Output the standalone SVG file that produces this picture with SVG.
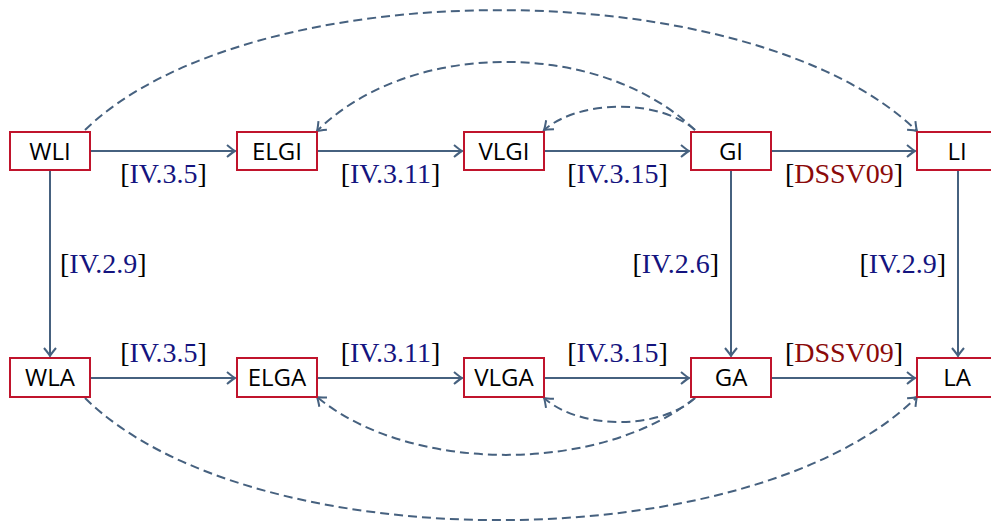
<svg xmlns="http://www.w3.org/2000/svg" width="991" height="527" viewBox="0 0 991 527">
<style>
.box{fill:#fff;stroke:#c0142c;stroke-width:2}
.nt{font-family:"Open Sans","DejaVu Sans",sans-serif;font-size:24px;fill:#000;text-anchor:middle}
.e{fill:none;stroke:#46617f;stroke-width:2;marker-end:url(#arr)}
.d{stroke-dasharray:9 5}
.lb{font-family:"Liberation Serif","Times New Roman",serif;font-size:28px;fill:#000}
.c{text-anchor:middle}
.r{text-anchor:end}
.bl{fill:#14147f}
.rd{fill:#8b0a0a}
</style>
<defs>
<marker id="arr" markerUnits="userSpaceOnUse" markerWidth="16" markerHeight="16" refX="1" refY="0" viewBox="-9 -8 11 16" orient="auto" overflow="visible">
<path d="M-7,-6 Q-1,-1 1,0 Q-1,1 -7,6" fill="none" stroke="#46617f" stroke-width="2" stroke-dasharray="none"/>
</marker>
</defs>
<g id="connectors">
<path class="e" d="M90,151 H235"/>
<path class="e" d="M317,151 H462"/>
<path class="e" d="M544,151 H689"/>
<path class="e" d="M771,151 H915"/>
<path class="e" d="M90,378 H235"/>
<path class="e" d="M317,378 H462"/>
<path class="e" d="M544,378 H689"/>
<path class="e" d="M771,378 H915"/>
<path class="e" d="M50,170 V356"/>
<path class="e" d="M731,170 V356"/>
<path class="e" d="M958,170 V356"/>
<path class="e d" d="M85,130 C250,-30 750,-30 917,131"/>
<path class="e d" d="M695,130 C600,39 410,39 317,131"/>
<path class="e d" d="M695,130 C660,99 580,99 544,130"/>
<path class="e d" d="M85,398 C250,561 750,561 917,397"/>
<path class="e d" d="M695,398 C600,474 410,474 317,397"/>
<path class="e d" d="M695,398 C660,430 580,430 544,398"/>
</g>
<g id="labels">
<text class="lb c" x="163.5" y="183">[<tspan class="bl">IV.3.5</tspan>]</text>
<text class="lb c" x="390.5" y="183">[<tspan class="bl">IV.3.11</tspan>]</text>
<text class="lb c" x="617.5" y="183">[<tspan class="bl">IV.3.15</tspan>]</text>
<text class="lb c" x="844" y="183">[<tspan class="rd">DSSV09</tspan>]</text>
<text class="lb c" x="163.5" y="362">[<tspan class="bl">IV.3.5</tspan>]</text>
<text class="lb c" x="390.5" y="362">[<tspan class="bl">IV.3.11</tspan>]</text>
<text class="lb c" x="617.5" y="362">[<tspan class="bl">IV.3.15</tspan>]</text>
<text class="lb c" x="844" y="362">[<tspan class="rd">DSSV09</tspan>]</text>
<text class="lb" x="60" y="273">[<tspan class="bl">IV.2.9</tspan>]</text>
<text class="lb r" x="719" y="273">[<tspan class="bl">IV.2.6</tspan>]</text>
<text class="lb r" x="946" y="273">[<tspan class="bl">IV.2.9</tspan>]</text>
</g>
<g id="WLI"><rect class="box" x="10" y="132" width="80" height="38"/><text class="nt" x="50" y="160">WLI</text></g>
<g id="ELGI"><rect class="box" x="237" y="132" width="80" height="38"/><text class="nt" x="277" y="160">ELGI</text></g>
<g id="VLGI"><rect class="box" x="464" y="132" width="80" height="38"/><text class="nt" x="504" y="160">VLGI</text></g>
<g id="GI"><rect class="box" x="691" y="132" width="80" height="38"/><text class="nt" x="731" y="160">GI</text></g>
<g id="LI"><rect class="box" x="917" y="132" width="80" height="38"/><text class="nt" x="957" y="160">LI</text></g>
<g id="WLA"><rect class="box" x="10" y="358" width="80" height="39"/><text class="nt" x="50" y="386">WLA</text></g>
<g id="ELGA"><rect class="box" x="237" y="358" width="80" height="39"/><text class="nt" x="277" y="386">ELGA</text></g>
<g id="VLGA"><rect class="box" x="464" y="358" width="80" height="39"/><text class="nt" x="504" y="386">VLGA</text></g>
<g id="GA"><rect class="box" x="691" y="358" width="80" height="39"/><text class="nt" x="731" y="386">GA</text></g>
<g id="LA"><rect class="box" x="917" y="358" width="80" height="39"/><text class="nt" x="957" y="386">LA</text></g>
</svg>
